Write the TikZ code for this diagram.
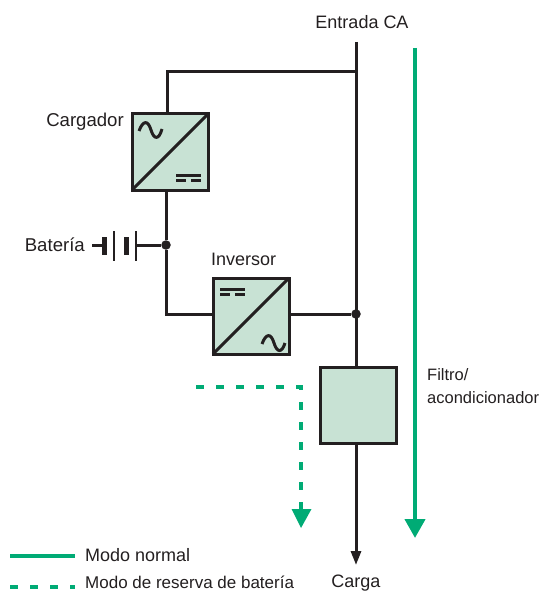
\documentclass[tikz,border=0pt]{standalone}
\usepackage{fontspec}
\setmainfont{Liberation Sans}
\usetikzlibrary{arrows.meta}
\definecolor{ink}{HTML}{231F20}
\definecolor{grn}{HTML}{00AB75}
\definecolor{boxfill}{HTML}{C8E2D4}
\tikzset{
  wire/.style={draw=ink,line width=3pt},
  conv/.style={draw=ink,fill=boxfill,line width=3pt,minimum width=76pt,minimum height=76pt,inner sep=0pt,outer sep=0pt},
  sym/.style={draw=ink,line width=3pt,line cap=butt},
  dot/.style={circle,fill=ink,minimum size=9.5pt,inner sep=0pt},
  lab/.style={font=\fontsize{18}{20}\selectfont,text=ink,inner sep=0pt},
  biglab/.style={font=\fontsize{18.6}{20}\selectfont,text=ink,inner sep=0pt},
  green solid/.style={draw=grn,line width=4.2pt},
  green dash/.style={draw=grn,line width=4.2pt,dash pattern=on 8pt off 12pt},
  tip/.style={-{Triangle[length=19pt,width=20pt,color=grn]}}
}
\begin{document}
\begin{tikzpicture}[x=1pt,y=-1pt]
\useasboundingbox (0,0) rectangle (540,591);
% coordinates
\coordinate (in) at (356,42);
\coordinate (tee) at (356,72);
\coordinate (corner) at (167,72);
\coordinate (out) at (356,565);
\coordinate (c1) at (166,314);
\node[dot] (j1) at (356,314) {};
\node[dot] (j2) at (166,245) {};
% wires
\draw[wire,-{Triangle[length=14pt,width=10pt,color=ink]}] (in) -- (out);
\draw[wire] (tee) -- (corner) -- (167,113);
\draw[wire] (166,191) -- (j2) -- (c1) -- (212,314);
\draw[wire] (290,314) -- (j1);
% boxes
\node[conv] (charger) at (170,152) {};
\node[conv] (inverter) at (251,316) {};
\node[conv] (filter) at (358,405.5) {};
\draw[wire] (charger.south west) -- (charger.north east);
\draw[wire] (inverter.south west) -- (inverter.north east);
% charger symbols
\draw[sym] (139,131) .. controls (143,120) and (148,120) .. (151,130) .. controls (154,140) and (159,140) .. (162,129);
\draw[sym] (176,175) -- (201,175);
\draw[sym] (176,180.5) -- (186,180.5) (191,180.5) -- (201,180.5);
% inverter symbols
\draw[sym] (262,344) .. controls (266,333) and (271,333) .. (274,343) .. controls (277,353) and (282,353) .. (285,343);
\draw[sym] (220,289) -- (245,289);
\draw[sym] (220,294.5) -- (230,294.5) (235,294.5) -- (245,294.5);
% battery
\draw[wire] (92,245) -- (104,245);
\draw[draw=ink,line width=5pt] (104,237) -- (104,255);
\draw[draw=ink,line width=2.5pt] (114,231) -- (114,261);
\draw[draw=ink,line width=5pt] (126,237) -- (126,255);
\draw[draw=ink,line width=2.5pt] (136,231) -- (136,261);
\draw[wire] (136,245) -- (j2);
% green arrows
\coordinate (g1) at (415,48);
\coordinate (g2) at (415,538);
\draw[green solid,tip] (g1) -- (g2);
\coordinate (d1) at (196,387);
\coordinate (d2) at (301,387);
\coordinate (d3) at (301,509);
\coordinate (d4) at (301,528);
\draw[green dash] (d1) -- (d2) -- (d3);
\fill[grn] (291.5,509) -- (311.5,509) -- (d4) -- cycle;
% labels
\node[lab,anchor=base] (tin) at (362,29) {Entrada CA};
\node[biglab,anchor=base east] (tch) at (124,127) {Cargador};
\node[biglab,anchor=base east] (tba) at (85,251) {Batería};
\node[lab,anchor=base west] (tinv) at (211,265) {Inversor};
\node[lab,anchor=base west,font=\fontsize{16.5}{18}\selectfont] (tf1) at (427,380) {Filtro/};
\node[lab,anchor=base west,font=\fontsize{16.5}{18}\selectfont] (tf2) at (427,403) {acondicionador};
\node[lab,anchor=base] (tca) at (356,587) {Carga};
\coordinate (l1) at (10,556);
\coordinate (l2) at (75,556);
\coordinate (l3) at (10,587);
\coordinate (l4) at (75,587);
\draw[green solid] (l1) -- (l2);
\draw[green dash] (l3) -- (l4);
\node[lab,anchor=base west] (tn) at (85,561) {Modo normal};
\node[lab,anchor=base west,font=\fontsize{17}{19}\selectfont] (tr) at (85,588.5) {Modo de reserva de batería};
\end{tikzpicture}
\end{document}
